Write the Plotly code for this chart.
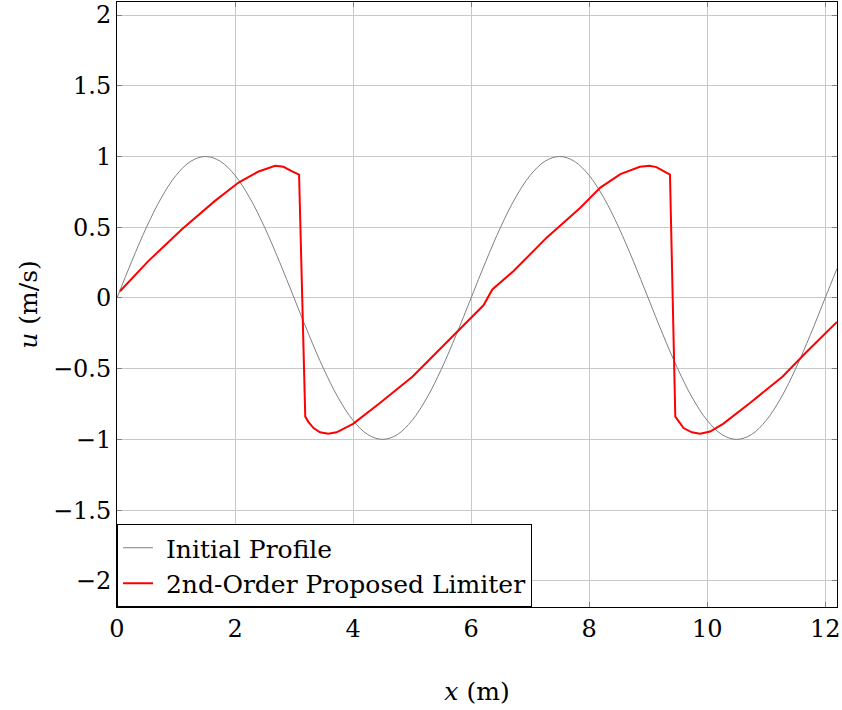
import plotly.graph_objects as go

# Initial profile
init_x = [0, 0.25, 0.5, 0.75, 1.0, 1.25, 1.5, 1.75, 2.0, 2.25, 2.5, 2.75,
          3.0, 3.25, 3.5, 3.75, 4.0, 4.25, 4.5, 4.75, 5.0, 5.25, 5.5, 5.75,
          6.0, 6.25, 6.5, 6.75, 7.0, 7.25, 7.5, 7.75, 8.0, 8.25, 8.5, 8.75,
          9.0, 9.25, 9.5, 9.75, 10.0, 10.25, 10.5, 10.75, 11.0, 11.25, 11.5, 11.75,
          12.0, 12.2]
init_u = [0, 0.259, 0.5, 0.707, 0.866, 0.966, 1.0, 0.966, 0.866, 0.707, 0.5, 0.259,
          0, -0.259, -0.5, -0.707, -0.866, -0.966, -1.0, -0.966, -0.866, -0.707, -0.5, -0.259,
          0, 0.259, 0.5, 0.707, 0.866, 0.966, 1.0, 0.966, 0.866, 0.707, 0.5, 0.259,
          0, -0.259, -0.5, -0.707, -0.866, -0.966, -1.0, -0.966, -0.866, -0.707, -0.5, -0.259,
          0, 0.208]

# 2nd-order proposed limiter solution
lim_x = [0.05, 0.53, 1.10, 1.66, 2.06, 2.40, 2.68, 2.82, 2.96, 3.085,
         3.19, 3.24, 3.33, 3.44, 3.58, 3.72, 4.0, 4.45, 5.01, 5.77, 6.21,
         6.36, 6.72, 7.28, 7.85, 8.19, 8.53, 8.86, 9.02, 9.14, 9.26, 9.37,
         9.46, 9.52, 9.60, 9.74, 9.88, 10.05, 10.27, 10.72, 11.28, 11.7, 12.2]
lim_u = [0.047, 0.26, 0.485, 0.686, 0.816, 0.894, 0.934, 0.927, 0.896, 0.872,
         -0.839, -0.874, -0.92, -0.95, -0.96, -0.95, -0.89, -0.745, -0.555, -0.236, -0.052,
         0.06, 0.19, 0.426, 0.638, 0.78, 0.875, 0.927, 0.934, 0.925, 0.895, 0.872,
         -0.839, -0.874, -0.92, -0.95, -0.96, -0.945, -0.89, -0.745, -0.555, -0.375, -0.17]

x_ticks = [0, 2, 4, 6, 8, 10, 12]
y_ticks = [-2, -1.5, -1, -0.5, 0, 0.5, 1, 1.5, 2]

FONT = "DejaVu Serif"

fig = go.Figure()
fig.add_trace(go.Scatter(x=init_x, y=init_u, mode="lines", name="\u00a0Initial Profile",
                         line=dict(color="#7f7f7f", width=1, shape="spline")))
fig.add_trace(go.Scatter(x=lim_x, y=lim_u, mode="lines", name="\u00a02nd-Order Proposed Limiter",
                         line=dict(color="#ff0000", width=2)))

axis_common = dict(showgrid=True, gridcolor="#c8c8c8", gridwidth=1,
                   showline=True, linecolor="#000000", linewidth=1, mirror="ticks",
                   ticks="inside", ticklen=5, tickcolor="#808080",
                   zeroline=False, tickfont=dict(family=FONT, size=24, color="black"))

fig.update_xaxes(range=[0, 12.2], tickvals=x_ticks,
                 title=dict(text="<i>x</i> (m)", font=dict(family=FONT, size=25, color="black"),
                            standoff=40),
                 **axis_common)
fig.update_yaxes(range=[-2.185, 2.092], tickvals=y_ticks,
                 title=dict(text="<i>u</i> (m/s)", font=dict(family=FONT, size=25, color="black"),
                            standoff=8),
                 **axis_common)

fig.update_layout(
    width=842, height=710, autosize=False,
    margin=dict(l=117, r=5, t=2, b=103),
    plot_bgcolor="white", paper_bgcolor="white",
    font=dict(family=FONT, size=24, color="black"),
    legend=dict(x=0, y=0, xanchor="left", yanchor="bottom",
                bgcolor="white", bordercolor="black", borderwidth=1,
                font=dict(family=FONT, size=25, color="black"),
                tracegroupgap=0, itemwidth=30),
    showlegend=True,
)

fig.write_html("out.html")
